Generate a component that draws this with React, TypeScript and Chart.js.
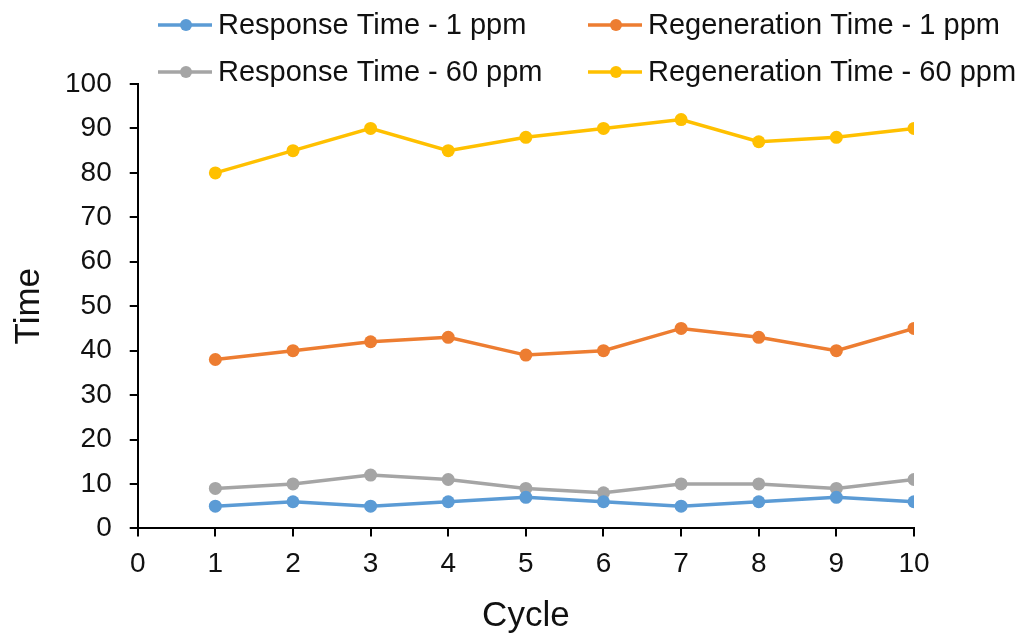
import { useEffect, useRef } from "react"
import { Chart, registerables } from "chart.js"

Chart.register(...registerables)

// Data
const cycles = [1, 2, 3, 4, 5, 6, 7, 8, 9, 10]
const responseTime1ppm = [5, 6, 5, 6, 7, 6, 5, 6, 7, 6]
const regenerationTime1ppm = [38, 40, 42, 43, 39, 40, 45, 43, 40, 45]
const responseTime60ppm = [9, 10, 12, 11, 9, 8, 10, 10, 9, 11]
const regenerationTime60ppm = [80, 85, 90, 85, 88, 90, 92, 87, 88, 90]

const seriesLabels = [
  "Response Time - 1 ppm",
  "Regeneration Time - 1 ppm",
  "Response Time - 60 ppm",
  "Regeneration Time - 60 ppm",
]
const seriesColors = ["#5B9BD5", "#ED7D31", "#A5A5A5", "#FFC000"]

const FONT = "'Liberation Sans', Arial, sans-serif"
const TEXT = "#111111"

// legend drawn in two columns, like the Excel original
const legendPlugin = {
  id: "twoColLegend",
  afterDraw(chart: Chart) {
    const ctx = chart.ctx
    const cols = [158, 588]
    const rows = [25, 72]
    ctx.save()
    ctx.font = `29px ${FONT}`
    ctx.textBaseline = "middle"
    ctx.textAlign = "left"
    chart.data.datasets.forEach((ds, i) => {
      const x = cols[i % 2]
      const y = rows[Math.floor(i / 2)]
      const color = ds.borderColor as string
      ctx.strokeStyle = color
      ctx.lineWidth = 3.5
      ctx.beginPath()
      ctx.moveTo(x, y)
      ctx.lineTo(x + 54, y)
      ctx.stroke()
      ctx.fillStyle = color
      ctx.beginPath()
      ctx.arc(x + 28, y, 6, 0, Math.PI * 2)
      ctx.fill()
      ctx.fillStyle = TEXT
      ctx.fillText(ds.label ?? "", x + 60, y + 1)
    })
    ctx.restore()
  },
}

export default function App() {
  const chartRef = useRef<HTMLCanvasElement>(null)
  const chartInstance = useRef<Chart | null>(null)

  useEffect(() => {
    if (!chartRef.current) return
    if (chartInstance.current) chartInstance.current.destroy()

    const series = [responseTime1ppm, regenerationTime1ppm, responseTime60ppm, regenerationTime60ppm]

    const ctx = chartRef.current.getContext("2d")
    if (!ctx) return
    chartInstance.current = new Chart(ctx, {
      type: "line",
      data: {
        datasets: series.map((vals, i) => ({
          label: seriesLabels[i],
          data: cycles.map((c, j) => ({ x: c, y: vals[j] })),
          borderColor: seriesColors[i],
          backgroundColor: seriesColors[i],
          borderWidth: 3.5,
          pointRadius: 6.5,
          pointHoverRadius: 6.5,
          pointBorderWidth: 0,
          tension: 0,
          fill: false,
        })),
      },
      options: {
        responsive: false,
        animation: false,
        layout: { padding: { top: 84, right: 110, bottom: 6, left: 0 } },
        plugins: {
          legend: { display: false },
          tooltip: { enabled: false },
        },
        scales: {
          x: {
            type: "linear",
            min: 0,
            max: 10,
            ticks: { stepSize: 1, color: TEXT, font: { family: FONT, size: 28 }, padding: 11 },
            grid: { drawOnChartArea: false, color: "#000", lineWidth: 2, tickLength: 8 },
            border: { color: "#000", width: 2 },
            title: {
              display: true,
              text: "Cycle",
              color: TEXT,
              font: { family: FONT, size: 35 },
              padding: { top: 3, bottom: 0 },
            },
          },
          y: {
            min: 0,
            max: 100,
            ticks: { stepSize: 10, color: TEXT, font: { family: FONT, size: 28 }, padding: 18 },
            grid: { drawOnChartArea: false, color: "#000", lineWidth: 2, tickLength: 8 },
            border: { color: "#000", width: 2 },
            title: {
              display: true,
              text: "Time",
              color: TEXT,
              font: { family: FONT, size: 35, lineHeight: 1 },
              padding: { top: 12, bottom: 0 },
            },
          },
        },
      },
      plugins: [legendPlugin],
    })

    return () => {
      if (chartInstance.current) {
        chartInstance.current.destroy()
        chartInstance.current = null
      }
    }
  }, [])

  return (
    <div style={{ position: "absolute", left: 0, top: 0, width: 1024, height: 643, background: "#fff" }}>
      <canvas ref={chartRef} width={1024} height={643} />
    </div>
  )
}
